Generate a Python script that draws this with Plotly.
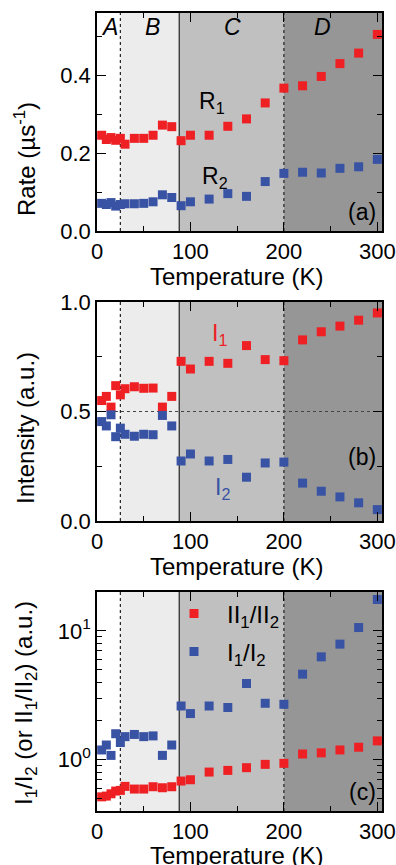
import plotly.graph_objects as go
import numpy as np

# ---------------- data ----------------
temp = [5, 10, 15, 20, 25, 30, 40, 50, 60, 70, 80, 90, 100, 120, 140, 160, 180, 200, 220, 240, 260, 280, 300]

rate_r1 = [0.246, 0.235, 0.240, 0.233, 0.238, 0.223, 0.238, 0.238, 0.246, 0.272, 0.268, 0.232,
           0.246, 0.246, 0.269, 0.288, 0.329, 0.367, 0.373, 0.397, 0.430, 0.457, 0.505]
rate_r2 = [0.071, 0.068, 0.073, 0.064, 0.068, 0.070, 0.070, 0.071, 0.075, 0.093, 0.086, 0.065,
           0.075, 0.082, 0.096, 0.089, 0.127, 0.148, 0.151, 0.149, 0.161, 0.165, 0.184]

int_i1 = [0.550, 0.569, 0.520, 0.618, 0.576, 0.604, 0.613, 0.606, 0.607, 0.520, 0.569, 0.729,
          0.694, 0.729, 0.720, 0.801, 0.737, 0.732, 0.827, 0.864, 0.890, 0.917, 0.950]
int_i2 = [0.454, 0.434, 0.485, 0.385, 0.424, 0.396, 0.387, 0.396, 0.394, 0.482, 0.434, 0.274,
          0.306, 0.274, 0.281, 0.200, 0.265, 0.269, 0.173, 0.136, 0.110, 0.083, 0.052]

ratio_ii = [0.515, 0.522, 0.544, 0.571, 0.578, 0.621, 0.592, 0.592, 0.617, 0.606, 0.617, 0.683,
            0.699, 0.802, 0.826, 0.867, 0.920, 0.937, 1.107, 1.13, 1.19, 1.25, 1.40]
ratio_i = [1.19, 1.30, 1.08, 1.59, 1.36, 1.51, 1.57, 1.51, 1.53, 1.08, 1.30, 2.61,
           2.28, 2.61, 2.54, 3.90, 2.74, 2.69, 4.61, 6.28, 7.88, 10.6, 17.5]

region_edges = [0, 25, 88, 200, 305]
region_names = ["A", "B", "C", "D"]
region_colors = ["#ffffff", "#ececec", "#c0c0c0", "#969696"]
boundary_dash = ["dot", "solid", "dot"]

x_ticks = [0, 100, 200, 300]

RED = "#ee2024"
BLUE = "#3953a4"
FONT = "Liberation Sans, Arial, sans-serif"

# ---------------- figure ----------------
fig = go.Figure()

ms = 9
def add(x, y, color, xa, ya, name=None, legend=None):
    fig.add_trace(go.Scatter(
        x=x, y=y, mode="markers", xaxis=xa, yaxis=ya,
        marker=dict(symbol="square", size=ms, color=color, line=dict(width=0)),
        name=name or "", showlegend=legend is not None,
        legend=legend if legend else "legend"))

add(temp, rate_r1, RED, "x", "y")
add(temp, rate_r2, BLUE, "x", "y")
add(temp, int_i1, RED, "x2", "y2")
add(temp, int_i2, BLUE, "x2", "y2")
add(temp, ratio_ii, RED, "x3", "y3", name="II<sub>1</sub>/II<sub>2</sub>", legend="legend")
add(temp, ratio_i, BLUE, "x3", "y3", name="I<sub>1</sub>/I<sub>2</sub>", legend="legend2")

# pixel geometry helpers
L, R, T, B = 97, 14, 13, 54
W, H = 396, 865
PW = W - L - R
PH = H - T - B
def yp(py):
    return (H - B - py) / PH
def xp(px):
    return (px - L) / PW

domains = [[yp(231), yp(13)], [yp(521), yp(302)], [yp(811), yp(592)]]

TICK_SIZE = 22
axis_common = dict(
    showline=True, linecolor="black", linewidth=1.5, mirror="ticks",
    ticks="inside", ticklen=9, tickwidth=1.2, tickcolor="black",
    showgrid=False, zeroline=False, ticklabeloverflow="allow",
    tickfont=dict(family=FONT, size=TICK_SIZE, color="black"),
)

layout = dict(
    width=W, height=H,
    margin=dict(l=L, r=R, t=T, b=B, pad=0, autoexpand=False),
    paper_bgcolor="white", plot_bgcolor="white",
    font=dict(family=FONT, color="black"),
)

for i in range(3):
    sx = "" if i == 0 else str(i + 1)
    layout["xaxis" + sx] = dict(
        axis_common, domain=[0, 1], range=[region_edges[0], region_edges[-1]],
        anchor="y" + sx, tickvals=x_ticks,
        minor=dict(dtick=50, ticks="inside", ticklen=5, tickcolor="black"),
    )

layout["yaxis"] = dict(axis_common, domain=domains[0], anchor="x", range=[0, 0.56],
                       tickvals=[0, 0.2, 0.4], tickformat=".1f",
                       minor=dict(dtick=0.1, ticks="inside", ticklen=5, tickcolor="black"))
layout["yaxis2"] = dict(axis_common, domain=domains[1], anchor="x2", range=[0, 1.0],
                        tickvals=[0, 0.5, 1.0], tickformat=".1f",
                        minor=dict(dtick=0.25, ticks="inside", ticklen=5, tickcolor="black"))
minor_log = [0.4, 0.5, 0.6, 0.7, 0.8, 0.9, 2, 3, 4, 5, 6, 7, 8, 9, 20]
layout["yaxis3"] = dict(axis_common, domain=domains[2], anchor="x3", type="log",
                        range=[np.log10(0.4), np.log10(20)],
                        tickvals=[1, 10], ticktext=["10<sup>0</sup>", "10<sup>1</sup>"],
                        minor=dict(tickvals=minor_log, ticks="inside", ticklen=5, tickcolor="black"))

leg_font = dict(family=FONT, size=24, color="black")
layout["legend"] = dict(x=xp(161), y=yp(614), xanchor="left", yanchor="middle",
                        bgcolor="rgba(0,0,0,0)", font=leg_font, itemwidth=56)
layout["legend2"] = dict(x=xp(161), y=yp(652), xanchor="left", yanchor="middle",
                         bgcolor="rgba(0,0,0,0)", font=leg_font, itemwidth=56)

fig.update_layout(**layout)

# region shading and boundaries
shapes = []
for i in range(3):
    sx = "" if i == 0 else str(i + 1)
    for k in range(4):
        shapes.append(dict(type="rect", xref="x" + sx, yref="y" + sx + " domain",
                           x0=region_edges[k], x1=region_edges[k + 1], y0=0, y1=1,
                           fillcolor=region_colors[k], line=dict(width=0), layer="below"))
    for k in range(3):
        shapes.append(dict(type="line", xref="x" + sx, yref="y" + sx + " domain",
                           x0=region_edges[k + 1], x1=region_edges[k + 1], y0=0, y1=1,
                           line=dict(color="#222222", width=1.2, dash=boundary_dash[k]),
                           layer="below"))
shapes.append(dict(type="line", xref="x2 domain", yref="y2", x0=0, x1=1, y0=0.5, y1=0.5,
                   line=dict(color="#444444", width=1, dash="dot"), layer="below"))
fig.update_layout(shapes=shapes)

ANN = 23
ann = []
# region letters
region_label_x = [12.9, 59, 145, 241]
for name, xv in zip(region_names, region_label_x):
    ann.append(dict(text="<i>%s</i>" % name, x=xv, y=yp(27), xref="x", yref="paper",
                    showarrow=False, font=dict(size=ANN, family=FONT, color="black"),
                    xanchor="center", yanchor="middle"))
# series labels
ann += [
    dict(text="R<sub>1</sub>", x=123, y=0.33, xref="x", yref="y", showarrow=False,
         font=dict(size=ANN, family=FONT, color="black")),
    dict(text="R<sub>2</sub>", x=126, y=0.138, xref="x", yref="y", showarrow=False,
         font=dict(size=ANN, family=FONT, color="black")),
    dict(text="I<sub>1</sub>", x=131, y=0.85, xref="x2", yref="y2", showarrow=False,
         font=dict(size=ANN, family=FONT, color=RED)),
    dict(text="I<sub>2</sub>", x=134, y=0.15, xref="x2", yref="y2", showarrow=False,
         font=dict(size=ANN, family=FONT, color=BLUE)),
]
for lbl, px, py in [("(a)", 362, 212), ("(b)", 362, 457), ("(c)", 362, 792)]:
    ann.append(dict(text=lbl, x=xp(px), y=yp(py), xref="paper", yref="paper", showarrow=False,
                    xanchor="center", yanchor="middle",
                    font=dict(size=ANN, family=FONT, color="black")))
# axis titles
for py in [276, 566, 855]:
    ann.append(dict(text="Temperature (K)", x=xp(236), y=yp(py), xref="paper", yref="paper",
                    showarrow=False, font=dict(size=24, family=FONT, color="black"),
                    xanchor="center", yanchor="middle"))
ytitles = [("Rate (µs<sup>-1</sup>)", 159),
           ("Intensity (a.u.)", 428),
           ("I<sub>1</sub>/I<sub>2</sub> (or II<sub>1</sub>/II<sub>2</sub>) (a.u.)", 703)]
for txt, py in ytitles:
    ann.append(dict(text=txt, x=xp(25), y=yp(py), xref="paper", yref="paper",
                    showarrow=False, textangle=-90, font=dict(size=24, family=FONT, color="black"),
                    xanchor="center", yanchor="middle"))
fig.update_layout(annotations=ann)

fig.write_html("out.html")
